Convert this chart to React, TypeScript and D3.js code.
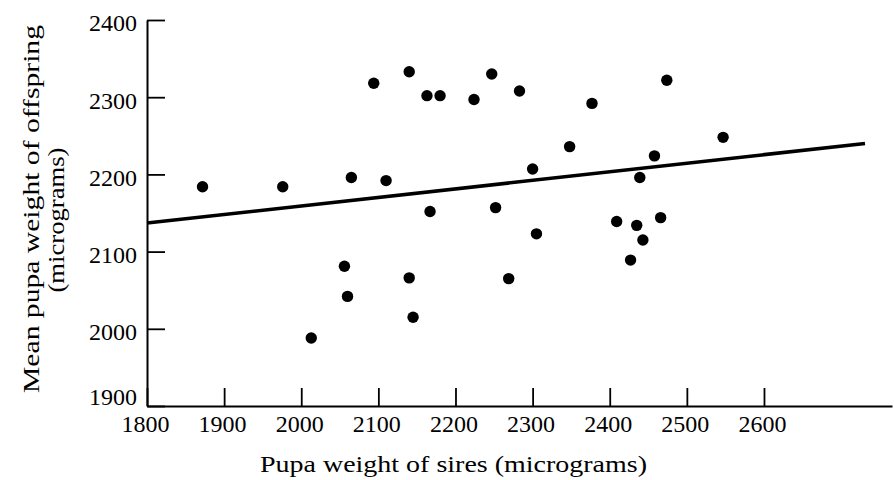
import React, { useEffect, useRef } from 'react';
import * as d3 from 'd3';

// sire pupa weight (x) vs mean offspring pupa weight (y), micrograms
const sireWeight = [
  1872, 1976, 2065, 2110, 2094, 2140, 2163, 2180, 2224, 2247, 2167,
  2252, 2283, 2377, 2474, 2348, 2300, 2458, 2439, 2547, 2056, 2060,
  2140, 2145, 2013, 2305, 2269, 2409, 2435, 2466, 2443, 2427,
];
const offspringWeight = [
  2184, 2184, 2196, 2192, 2318, 2333, 2302, 2302, 2297, 2330, 2152,
  2157, 2308, 2292, 2322, 2236, 2207, 2224, 2196, 2248, 2081, 2042,
  2066, 2015, 1988, 2123, 2065, 2139, 2134, 2144, 2115, 2089,
];

// regression line end points
const fitX = [1800, 2731];
const fitY = [2137, 2240];

const xTicks = [1800, 1900, 2000, 2100, 2200, 2300, 2400, 2500, 2600];
const yTicks = [1900, 2000, 2100, 2200, 2300, 2400];

const xTitle = 'Pupa weight of sires (micrograms)';
const yTitle1 = 'Mean pupa weight of offspring';
const yTitle2 = '(micrograms)';

const W = 894;
const H = 480;
const FONT = '"Liberation Serif", "Times New Roman", serif';

const App = () => {
  const svgRef = useRef<SVGSVGElement>(null);

  useEffect(() => {
    const svg = d3.select(svgRef.current);
    svg.selectAll('*').remove();

    const x = d3.scaleLinear().domain([1800, 2766]).range([147, 892]);
    const y = d3.scaleLinear().domain([1900, 2400]).range([406, 20]);

    // axes
    const gx = svg.append('g')
      .attr('transform', `translate(0,${y(1900)})`)
      .call(d3.axisBottom(x).tickValues(xTicks).tickFormat(d3.format('d'))
        .tickSize(-18).tickSizeOuter(0).tickPadding(9));
    gx.select('.domain').attr('stroke-width', 2);
    gx.selectAll('.tick line').attr('stroke-width', 1.8);
    gx.selectAll('.tick text')
      .attr('dx', -2)
      .style('font-family', FONT)
      .style('font-size', '24px')
      .attr('fill', '#000');

    const gy = svg.append('g')
      .attr('transform', `translate(${x(1800)},0)`)
      .call(d3.axisLeft(y).tickValues(yTicks).tickFormat(d3.format('d'))
        .tickSize(-18).tickSizeOuter(0).tickPadding(10));
    gy.select('.domain').attr('stroke-width', 2);
    gy.selectAll('.tick line').attr('stroke-width', 1.8);
    gy.selectAll('.tick text')
      .attr('dy', (d: any) => (d === 1900 ? '-0.08em' : '0.45em'))
      .style('font-family', FONT)
      .style('font-size', '24px')
      .attr('fill', '#000');

    // regression line
    const line = d3.line<number>()
      .x((d) => x(d))
      .y((d, i) => y(fitY[i]));
    svg.append('path')
      .datum(fitX)
      .attr('fill', 'none')
      .attr('stroke', '#000')
      .attr('stroke-width', 3.6)
      .attr('d', line);

    // points
    svg.append('g')
      .selectAll('circle')
      .data(sireWeight)
      .join('circle')
      .attr('cx', (d) => x(d))
      .attr('cy', (d, i) => y(offspringWeight[i]))
      .attr('r', 5.7)
      .attr('fill', '#000');

    // titles
    svg.append('text')
      .attr('x', 453.5)
      .attr('y', 472)
      .attr('text-anchor', 'middle')
      .attr('textLength', 387)
      .attr('lengthAdjust', 'spacingAndGlyphs')
      .style('font-family', FONT)
      .style('font-size', '23px')
      .text(xTitle);

    svg.append('text')
      .attr('transform', 'translate(38.5,209) rotate(-90)')
      .attr('text-anchor', 'middle')
      .attr('textLength', 368)
      .attr('lengthAdjust', 'spacingAndGlyphs')
      .style('font-family', FONT)
      .style('font-size', '23px')
      .text(yTitle1);

    svg.append('text')
      .attr('transform', 'translate(64,220) rotate(-90)')
      .attr('text-anchor', 'middle')
      .attr('textLength', 145)
      .attr('lengthAdjust', 'spacingAndGlyphs')
      .style('font-family', FONT)
      .style('font-size', '23px')
      .text(yTitle2);
  }, []);

  return (
    <div style={{ position: 'absolute', left: 0, top: 0 }}>
      <svg ref={svgRef} width={W} height={H} style={{ display: 'block', background: '#fff' }}></svg>
    </div>
  );
};

export default App;
